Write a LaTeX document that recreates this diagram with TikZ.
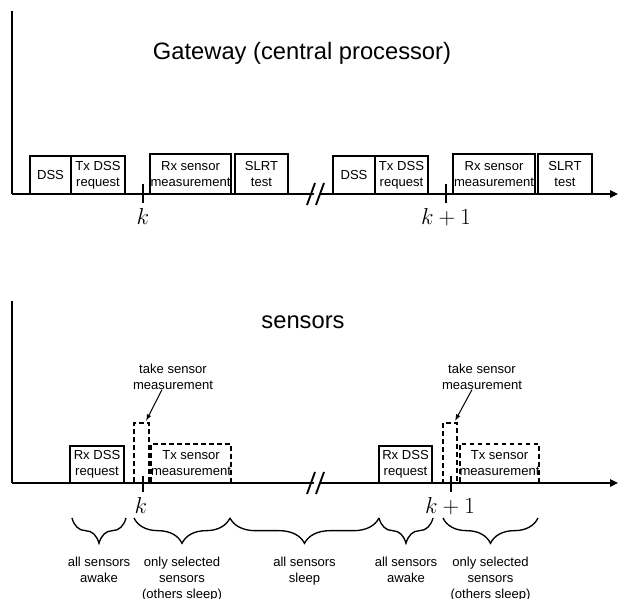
\documentclass[tikz,border=0pt]{standalone}
\usepackage{fontspec}
\setmainfont{Liberation Sans}
\usetikzlibrary{arrows.meta,decorations.pathreplacing}

\newcommand{\boxfont}{\fontsize{9.8}{12}\selectfont}
\newcommand{\titlefont}{\fontsize{17.8}{21}\selectfont}
\newcommand{\stepfont}{\fontsize{17}{20}\selectfont}

\tikzset{
    slot/.style 2 args={draw, line width=1.5pt, inner sep=0pt, align=center,
        minimum width=#1*0.75pt, minimum height=#2*0.75pt, font=\boxfont},
    dashslot/.style 2 args={slot={#1}{#2}, dash pattern=on 3.5pt off 2.5pt},
    axis/.style={line width=1.5pt, -{Triangle[length=6pt,width=5.5pt]}},
    tick/.style={line width=1.5pt},
    brk/.style={line width=1.4pt},
    brace/.style={decorate, decoration={brace, amplitude=19pt}, line width=1pt},
    lbl/.style={align=center, inner sep=0pt, font=\boxfont},
    pointer/.style={line width=0.75pt, -{Latex[length=5pt,width=3.5pt]}},
}

\begin{document}
\begin{tikzpicture}[x=0.75pt, y=-0.75pt]
    \useasboundingbox (0,0) rectangle (619,599);

    % Gateway time line
    \coordinate (gTop) at (12,11);
    \coordinate (gO) at (12,194);
    \coordinate (gEnd) at (618,194);
    \draw[line width=1.5pt] (gTop) -- (gO);
    \draw[axis] (gO) -- (gEnd);
    \node[anchor=base, font=\titlefont] (gTitle) at (302,60) {Gateway (central processor)};

    % break in the gateway line
    \fill[white] (310,205) -- (316,205) -- (324,183) -- (318,183) -- cycle;
    \draw[brk] (307,205) -- (315,183);
    \draw[brk] (316,205) -- (324,183);

    % gateway slots, frame k
    \node[slot={41}{38}] (dss1) at (50.5,175) {DSS};
    \node[slot={54}{38}] (txreq1) at (98,175) {Tx DSS\\request};
    \node[slot={81}{40}] (rxmeas1) at (190.5,174) {Rx sensor\\measurement};
    \node[slot={53}{40}] (slrt1) at (261.5,174) {SLRT\\test};

    % gateway slots, frame k+1
    \node[slot={42}{38}] (dss2) at (354,175) {DSS};
    \node[slot={53}{38}] (txreq2) at (401.5,175) {Tx DSS\\request};
    \node[slot={82}{40}] (rxmeas2) at (494,174) {Rx sensor\\measurement};
    \node[slot={54}{40}] (slrt2) at (565,174) {SLRT\\test};

    % frame ticks
    \draw[tick] (143,184) -- (143,203);
    \draw[tick] (446,184) -- (446,203);
    \node[anchor=base, font=\stepfont] (gk) at (143,225) {$k$};
    \node[anchor=base, font=\stepfont] (gk1) at (446,225) {$k+1$};

    % Sensor time line
    \coordinate (sTop) at (12,301);
    \coordinate (sO) at (12,483);
    \coordinate (sEnd) at (618,483);
    \draw[line width=1.5pt] (sTop) -- (sO);
    \draw[axis] (sO) -- (sEnd);
    \node[anchor=base, font=\titlefont] (sTitle) at (303,329) {sensors};

    % break in the sensor line
    \fill[white] (310,494) -- (316,494) -- (324,472) -- (318,472) -- cycle;
    \draw[brk] (307,494) -- (315,472);
    \draw[brk] (316,494) -- (324,472);

    % sensor slots, frame k
    \node[slot={54}{37}] (rxreq1) at (97,464.5) {Rx DSS\\request};
    \node[dashslot={15}{60}] (meas1) at (141.5,453) {};
    \node[dashslot={78}{39}] (txmeas1) at (191,463.5) {Tx sensor\\measurement};
    \node[lbl, anchor=north] (take1) at (173,363.5) {take sensor\\measurement};
    \draw[pointer] ([xshift=-8.25pt]take1.south) -- ([xshift=-3pt,yshift=0.75pt]meas1.north east);

    % sensor slots, frame k+1
    \node[slot={53}{37}] (rxreq2) at (405.5,464.5) {Rx DSS\\request};
    \node[dashslot={14}{60}] (meas2) at (450,453) {};
    \node[dashslot={79}{39}] (txmeas2) at (499.5,463.5) {Tx sensor\\measurement};
    \node[lbl, anchor=north] (take2) at (482,363.5) {take sensor\\measurement};
    \draw[pointer] ([xshift=-7.5pt]take2.south) -- ([xshift=-2.25pt,yshift=0.75pt]meas2.north east);

    % frame ticks
    \draw[tick] (143,476) -- (143,492);
    \draw[tick] (451,476) -- (451,492);
    \node[anchor=base, font=\stepfont] (sk) at (141,514) {$k$};
    \node[anchor=base, font=\stepfont] (sk1) at (450,514) {$k+1$};

    % sensor states
    \draw[brace] (126,518) -- (72,518) node[midway, below=28.5pt, lbl] (awake1) {all sensors\\awake};
    \draw[brace] (230,518) -- (134,518) node[midway, below=28.5pt, lbl] (sel1) {only selected\\sensors\\(others sleep)};
    \draw[brace] (379,518) -- (230,518) node[midway, below=28.5pt, lbl] (sleep) {all sensors\\sleep};
    \draw[brace] (433,518) -- (379,518) node[midway, below=28.5pt, lbl] (awake2) {all sensors\\awake};
    \draw[brace] (538,518) -- (443,518) node[midway, below=28.5pt, lbl] (sel2) {only selected\\sensors\\(others sleep)};
\end{tikzpicture}
\end{document}
